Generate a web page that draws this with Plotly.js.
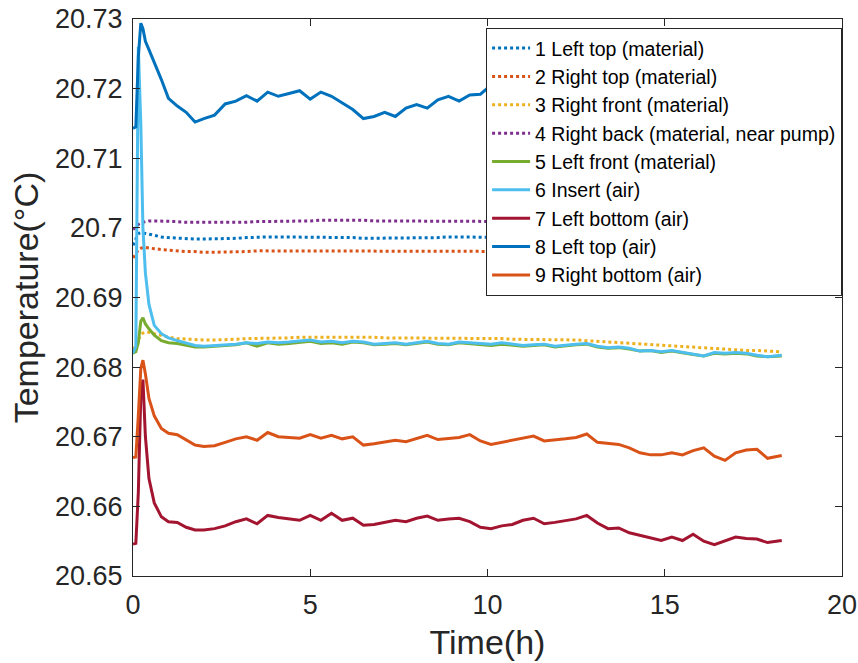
<!DOCTYPE html>
<html>
<head>
<meta charset="utf-8">
<script src="https://cdn.plot.ly/plotly-3.0.1.min.js"></script>
<style>html,body{margin:0;padding:0;background:#fff}#chart{width:858px;height:663px}</style>
</head>
<body>
<div id="chart"></div>
<script>
// time (h)
const timeH = [0,0.08,0.15,0.22,0.28,0.35,0.45,0.6,0.8,1.0,1.25,1.5,1.75,2.0,2.3,2.6,2.9,3.2,3.5,3.8,4.1,4.4,4.7,5.0,5.3,5.6,5.9,6.2,6.5,6.8,7.1,7.4,7.7,8.0,8.3,8.6,8.9,9.2,9.5,9.8,10.1,10.4,10.7,11.0,11.3,11.6,11.9,12.2,12.5,12.8,13.1,13.4,13.7,14.0,14.3,14.6,14.9,15.2,15.5,15.8,16.1,16.4,16.7,17.0,17.3,17.6,17.9,18.3];

const seriesNames = ["1 Left top (material)","2 Right top (material)","3 Right front (material)","4 Right back (material, near pump)","5 Left front (material)","6 Insert (air)","7 Left bottom (air)","8 Left top (air)","9 Right bottom (air)"];

const s1LeftTopMat = [20.6975,20.6985,20.6992,20.6993,20.6993,20.6992,20.6991,20.6989,20.6987,20.6986,20.6985,20.6984,20.6984,20.6984,20.6984,20.6985,20.6985,20.6986,20.6987,20.6987,20.6987,20.6987,20.6987,20.6987,20.6987,20.6986,20.6986,20.6986,20.6985,20.6985,20.6985,20.6985,20.6985,20.6986,20.6986,20.6986,20.6987,20.6987,20.6987,20.6987,
20.6987,20.6987,20.6986,20.6986,20.6986,20.6986,20.6985,20.6985,20.6985,20.6985,20.6985,20.6984,20.6984,20.6984,20.6984,20.6983,20.6983,20.6983,20.6983,20.6982,20.6982,20.6982,20.6982,20.6982,20.6981,20.6981,20.6981,20.6981];

const s2RightTopMat = [20.6957,20.6962,20.6969,20.6971,20.6972,20.6972,20.6971,20.6970,20.6969,20.6968,20.6967,20.6966,20.6966,20.6965,20.6965,20.6965,20.6966,20.6966,20.6967,20.6967,
20.6967,20.6967,20.6967,20.6967,20.6967,20.6966,20.6966,20.6966,20.6966,20.6966,20.6966,20.6966,20.6966,20.6966,20.6967,20.6967,20.6967,20.6967,20.6967,20.6967,
20.6967,20.6967,20.6966,20.6966,20.6966,20.6966,20.6966,20.6965,20.6965,20.6965,20.6965,20.6965,20.6965,20.6964,20.6964,20.6964,20.6964,20.6964,20.6963,20.6963,20.6963,20.6963,20.6963,20.6963,20.6962,20.6962,20.6962,20.6962];

const s3RightFrontMat = [20.6825,20.6832,20.6840,20.6846,20.6849,20.6850,20.6850,20.6848,20.6845,20.6843,20.6841,20.6840,20.6839,20.6839,20.6839,20.6839,20.6840,20.6841,20.6841,20.6842,
20.6842,20.6842,20.6843,20.6843,20.6843,20.6843,20.6844,20.6844,20.6843,20.6843,20.6842,20.6842,20.6842,20.6842,20.6842,20.6842,20.6842,20.6842,20.6842,20.6841,
20.6841,20.6841,20.6840,20.6840,20.6840,20.6840,20.6840,20.6839,20.6839,20.6838,20.6837,20.6836,20.6835,20.6834,20.6833,20.6832,20.6831,20.6830,20.6829,20.6828,20.6827,20.6826,20.6826,20.6825,20.6824,20.6824,20.6823,20.6822];

const s4RightBackMat = [20.6998,20.7000,20.7005,20.7007,20.7008,20.7009,20.7010,20.7010,20.7010,20.7010,20.7009,20.7008,20.7008,20.7007,20.7007,20.7007,20.7008,20.7008,20.7009,20.7009,
20.7009,20.7010,20.7010,20.7010,20.7011,20.7011,20.7012,20.7012,20.7011,20.7010,20.7010,20.7009,20.7009,20.7009,20.7009,20.7009,20.7010,20.7010,20.7010,20.7010,
20.7010,20.7010,20.7009,20.7009,20.7009,20.7008,20.7008,20.7008,20.7008,20.7008,20.7007,20.7007,20.7007,20.7007,20.7006,20.7006,20.7006,20.7006,20.7005,20.7005,20.7005,20.7005,20.7005,20.7004,20.7004,20.7004,20.7004,20.7004];

const s5LeftFrontMat = [20.6820,20.6822,20.6835,20.6866,20.6871,20.6862,20.6855,20.6846,20.6838,20.6835,20.6834,20.6831,20.6829,20.6829,20.6830,20.6830,20.6832,20.6835,20.6830,20.6835,
20.6833,20.6834,20.6836,20.6837,20.6834,20.6835,20.6833,20.6836,20.6835,20.6832,20.6833,20.6834,20.6832,20.6834,20.6836,20.6833,20.6832,20.6835,20.6834,20.6832,
20.6831,20.6833,20.6832,20.6830,20.6831,20.6832,20.6829,20.6831,20.6832,20.6833,20.6829,20.6827,20.6828,20.6826,20.6823,20.6824,20.6821,20.6823,20.6820,20.6818,20.6816,20.6820,20.6819,20.6820,20.6819,20.6816,20.6815,20.6816];

const s6InsertAir = [20.6820,20.6830,20.7260,20.7150,20.7000,20.6935,20.6890,20.6860,20.6848,20.6842,20.6838,20.6834,20.6831,20.6830,20.6831,20.6831,20.6833,20.6835,20.6834,20.6836,
20.6835,20.6836,20.6838,20.6839,20.6836,20.6837,20.6835,20.6837,20.6836,20.6833,20.6834,20.6835,20.6833,20.6835,20.6837,20.6834,20.6833,20.6836,20.6835,20.6834,
20.6833,20.6835,20.6833,20.6831,20.6832,20.6833,20.6830,20.6832,20.6833,20.6834,20.6830,20.6828,20.6829,20.6827,20.6823,20.6824,20.6822,20.6824,20.6821,20.6819,20.6816,20.6821,20.6820,20.6821,20.6820,20.6817,20.6815,20.6817];

const s7LeftBottomAir = [20.6546,20.6547,20.6620,20.6760,20.6782,20.6700,20.6640,20.6605,20.6585,20.6578,20.6577,20.6570,20.6566,20.6566,20.6568,20.6572,20.6578,20.6582,20.6575,20.6587,
20.6584,20.6582,20.6580,20.6587,20.6580,20.6590,20.6580,20.6583,20.6573,20.6574,20.6577,20.6580,20.6578,20.6583,20.6586,20.6580,20.6582,20.6583,20.6578,20.6570,
20.6568,20.6572,20.6574,20.6580,20.6583,20.6575,20.6577,20.6580,20.6582,20.6587,20.6576,20.6568,20.6569,20.6562,20.6558,20.6555,20.6551,20.6556,20.6551,20.6560,20.6550,20.6545,20.6550,20.6556,20.6554,20.6553,20.6548,20.6551];

const s8LeftTopAir = [20.7143,20.7145,20.7245,20.7294,20.7286,20.7268,20.7256,20.7238,20.7213,20.7186,20.7175,20.7166,20.7152,20.7157,20.7162,20.7178,20.7182,20.7190,20.7182,20.7195,
20.7189,20.7193,20.7197,20.7185,20.7195,20.7189,20.7180,20.7170,20.7157,20.7160,20.7166,20.7160,20.7172,20.7177,20.7172,20.7184,20.7189,20.7182,20.7191,20.7192,
20.7205,20.7185,20.7178,20.7182,20.7188,20.7180,20.7176,20.7183,20.7187,20.7179,20.7175,20.7181,20.7186,20.7178,20.7174,20.7180,20.7184,20.7177,20.7173,20.7179,20.7183,20.7176,20.7175,20.7180,20.7178,20.7174,20.7177,20.7177];

const s9RightBottomAir = [20.6670,20.6671,20.6730,20.6798,20.6810,20.6790,20.6755,20.6730,20.6712,20.6705,20.6703,20.6695,20.6688,20.6686,20.6687,20.6692,20.6697,20.6700,20.6695,20.6706,
20.6700,20.6699,20.6698,20.6703,20.6698,20.6702,20.6697,20.6700,20.6688,20.6690,20.6693,20.6695,20.6693,20.6698,20.6702,20.6696,20.6697,20.6699,20.6703,20.6694,
20.6689,20.6692,20.6694,20.6697,20.6701,20.6694,20.6695,20.6697,20.6699,20.6704,20.6692,20.6690,20.6689,20.6684,20.6677,20.6674,20.6674,20.6677,20.6674,20.6680,20.6684,20.6672,20.6666,20.6677,20.6681,20.6682,20.6669,20.6673];

const yTickVals = [20.65,20.66,20.67,20.68,20.69,20.70,20.71,20.72,20.73];
const yTickText = ["20.65","20.66","20.67","20.68","20.69","20.7","20.71","20.72","20.73"];
const xTickVals = [0,5,10,15,20];
const xTickText = ["0","5","10","15","20"];

const seriesValues = [s1LeftTopMat,s2RightTopMat,s3RightFrontMat,s4RightBackMat,s5LeftFrontMat,s6InsertAir,s7LeftBottomAir,s8LeftTopAir,s9RightBottomAir];
const colors = ["#0072BD","#D95319","#EDB120","#7E2F8E","#77AC30","#4DBEEE","#A2142F","#0072BD","#D95319"];
const dotted = [true,true,true,true,false,false,false,false,false];

const traces = seriesValues.map((vals,i)=>({
  type:'scatter', mode:'lines', x: timeH, y: vals, name: seriesNames[i],
  line:{color:colors[i], width:3, dash: dotted[i]?'3px,3px':'solid', shape:'linear'}
}));

const font = "Liberation Sans, Arial, Helvetica, sans-serif";
const layout = {
  width:858, height:663,
  margin:{l:133, r:16, t:19, b:87},
  paper_bgcolor:'#fff', plot_bgcolor:'#fff',
  showlegend:true,
  font:{family:font, color:'#262626'},
  xaxis:{range:[0,20], tickvals:xTickVals, ticktext:xTickText, ticks:'inside', ticklen:7, tickcolor:'#262626', tickwidth:1,
    showline:true, linecolor:'#262626', linewidth:1, mirror:'ticks', showgrid:false, zeroline:false,
    tickfont:{size:27, color:'#262626'}, ticklabelstandoff:5,
    title:{text:'Time(h)', font:{size:34, color:'#262626'}, standoff:10}},
  yaxis:{range:[20.65,20.73], tickvals:yTickVals, ticktext:yTickText, ticks:'inside', ticklen:7, tickcolor:'#262626', tickwidth:1,
    showline:true, linecolor:'#262626', linewidth:1, mirror:'ticks', showgrid:false, zeroline:false,
    tickfont:{size:27, color:'#262626'}, ticklabelstandoff:4,
    title:{text:'Temperature(°C)', font:{size:34, color:'#262626'}, standoff:6}},
  legend:{x:0.498, y:0.984, xanchor:'left', yanchor:'top', bgcolor:'#fff', bordercolor:'#262626', borderwidth:1,
    font:{size:19.5, color:'#000'}, tracegroupgap:0, itemwidth:38}
};
Plotly.newPlot('chart', traces, layout, {displayModeBar:false, staticPlot:true});
</script>
</body>
</html>
